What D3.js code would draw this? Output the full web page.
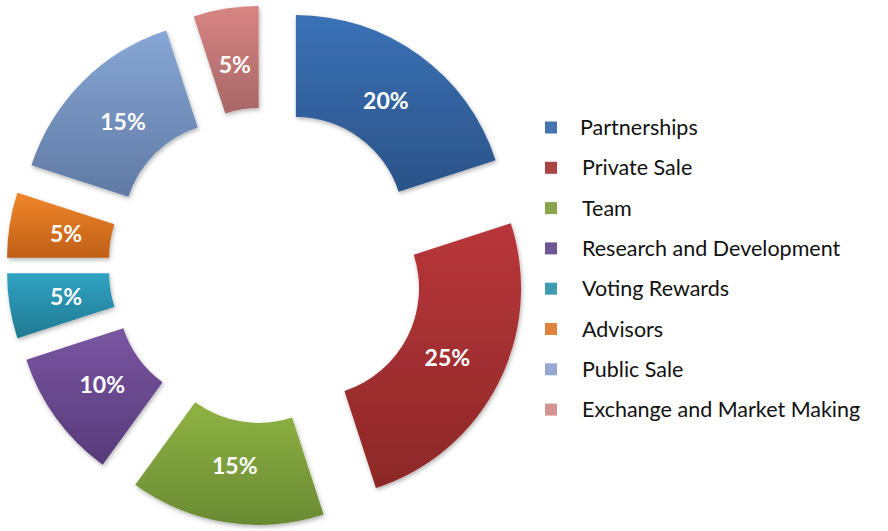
<!DOCTYPE html>
<html><head><meta charset="utf-8">
<script src="https://cdn.jsdelivr.net/npm/d3@7"></script>
<style>body{margin:0;background:#fff;} svg{display:block;}</style>
</head><body>
<svg id="chart" width="888" height="531"></svg>
<script>
const categories = ["Partnerships","Private Sale","Team","Research and Development","Voting Rewards","Advisors","Public Sale","Exchange and Market Making"];
const values = [20,25,15,10,5,5,15,5];
const topColors = ["#3a71b6","#b9363a","#8fb343","#7a56a2","#2fa2c2","#f0862a","#88a7d6","#d88583"];
const bottomColors = ["#2b5388","#8c2827","#6a8a33","#563a79","#217a92","#bf5f17","#5f7aa4","#a76766"];
const legendColors = ["#4574b0","#a94643","#88a54c","#6e5596","#3f9bb1","#df833d","#93a9d1","#d39391"];

const cx = 266.5, cy = 265.5, R = 210, r = 108, explode = 50;
const svg = d3.select("#chart");
const defs = svg.append("defs");

const f = defs.append("filter").attr("id","sh").attr("x","-20%").attr("y","-20%").attr("width","140%").attr("height","140%");
f.append("feDropShadow").attr("dx",1).attr("dy",2).attr("stdDeviation",2).attr("flood-color","#000").attr("flood-opacity",0.3);

const pie = d3.pie().sort(null).value(d => d)(values);
const arc = d3.arc().innerRadius(r).outerRadius(R);
const labelArc = d3.arc().innerRadius(153).outerRadius(153);
const g = svg.append("g").attr("transform", `translate(${cx},${cy})`);

pie.forEach((p, i) => {
  const mid = (p.startAngle + p.endAngle) / 2;
  const dx = explode * Math.sin(mid), dy = -explode * Math.cos(mid);
  const grad = defs.append("linearGradient").attr("id","g"+i)
    .attr("x1",0).attr("y1",0).attr("x2",0).attr("y2",1);
  grad.append("stop").attr("offset","0%").attr("stop-color",topColors[i]);
  grad.append("stop").attr("offset","100%").attr("stop-color",bottomColors[i]);
  const sg = g.append("g").attr("transform",`translate(${dx},${dy})`);
  sg.append("path").attr("d", arc(p)).attr("fill","url(#g"+i+")").attr("filter","url(#sh)");
  const c = labelArc.centroid(p);
  sg.append("text").attr("x", c[0]).attr("y", c[1]).attr("dy","0.35em")
    .attr("text-anchor","middle").attr("fill","#fff")
    .attr("font-family","Lato, 'Open Sans', sans-serif").attr("font-weight","bold").attr("font-size",23)
    .text(values[i] + "%");
});

const lg = svg.append("g");
categories.forEach((c, i) => {
  const y = 127.5 + i * 40.3;
  lg.append("rect").attr("x",545).attr("y",y-6).attr("width",12).attr("height",12).attr("fill",legendColors[i]);
  lg.append("text").attr("x", i===0?580:582).attr("y", y).attr("dy","0.35em")
    .attr("font-family","Lato, 'Open Sans', sans-serif").attr("font-size",21.5).attr("fill","#111")
    .text(c);
});
</script>
</body></html>
